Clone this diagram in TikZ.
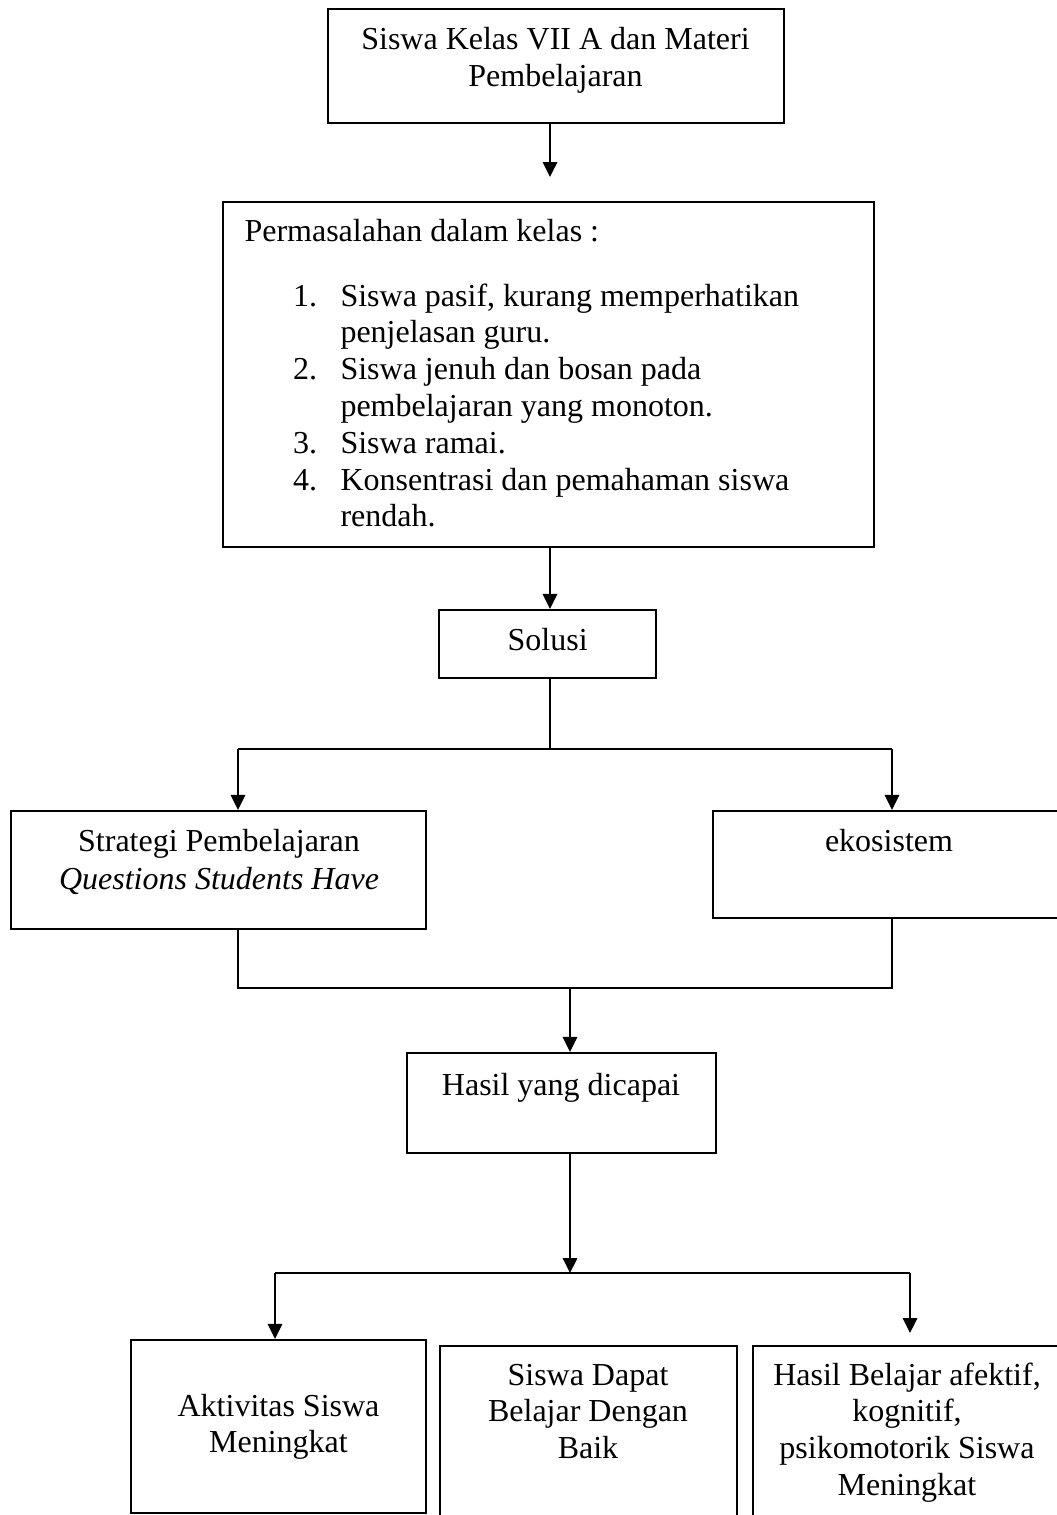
\documentclass[tikz,border=0pt]{standalone}
\usepackage{fontspec}
\setmainfont{Liberation Serif}
\usetikzlibrary{arrows.meta,fit}
\newlength\px \setlength\px{0.375pt}
\begin{document}
\begin{tikzpicture}[x=0.375pt,y=-0.375pt,
  box/.style={draw=black,line width=0.85pt,inner sep=0pt},
  txt/.style={inner sep=0pt,anchor=base,font=\fontsize{12}{13.8}\selectfont},
  con/.style={draw=black,line width=0.75pt},
  arr/.style={con,-{Triangle[length=5.6pt,width=5.4pt]}}]
\useasboundingbox (0,0) rectangle (1057,1515);
% boxes
\node[box,fit={(328,9) (784,123)}] (b1) {};
\node[box,fit={(223,202) (874,547)}] (b2) {};
\node[box,fit={(439,610) (656,678)}] (sol) {};
\node[box,fit={(11,811) (426,929)}] (str) {};
\node[box,fit={(713,811) (1070,918)}] (eko) {};
\node[box,fit={(407,1053) (716,1153)}] (has) {};
\node[box,fit={(131,1340) (426,1513)}] (r1) {};
\node[box,fit={(440,1346) (737,1530)}] (r2) {};
\node[box,fit={(753,1346) (1070,1530)}] (r3) {};
% texts
\node[txt] (t1) at (555.5,50) {\begin{tabular}[t]{@{}c@{}}Siswa Kelas VII A dan Materi\\Pembelajaran\end{tabular}};
\node[txt,anchor=base west] (t2) at (244,242) {Permasalahan dalam kelas :};
\node[txt,anchor=base west] (t3) at (292.7,306) {\begin{tabular}[t]{@{}p{47.3\px}@{}l@{}}1.&Siswa pasif, kurang memperhatikan\\ &penjelasan guru.\\2.&Siswa jenuh dan bosan pada\\ &pembelajaran yang monoton.\\3.&Siswa ramai.\\4.&Konsentrasi dan pemahaman siswa\\ &rendah.\end{tabular}};
\node[txt] (t4) at (547.7,650.7) {Solusi};
\node[txt] (t5) at (219,851) {\begin{tabular}[t]{@{}c@{}}Strategi Pembelajaran\\[0.8pt]\textit{Questions Students Have}\end{tabular}};
\node[txt] (t6) at (889,851.7) {ekosistem};
\node[txt] (t7) at (561,1095) {Hasil yang dicapai};
\node[txt] (t8) at (278.5,1416) {\begin{tabular}[t]{@{}c@{}}Aktivitas Siswa\\Meningkat\end{tabular}};
\node[txt] (t9) at (588,1385) {\begin{tabular}[t]{@{}c@{}}Siswa Dapat\\Belajar Dengan\\Baik\end{tabular}};
\node[txt] (t10) at (907,1385) {\begin{tabular}[t]{@{}c@{}}Hasil Belajar afektif,\\kognitif,\\psikomotorik Siswa\\Meningkat\end{tabular}};
% connectors
\coordinate (a1) at (550,177);
\draw[arr] (b1.south -| a1) -- (a1);
\draw[arr] (b2.south -| a1) -- (sol.north -| a1);
\coordinate (s1) at (550,749);
\coordinate (sL) at (238,749);
\coordinate (sR) at (892,749);
\draw[con] (sol.south -| s1) -- (s1);
\draw[con] (sL) -- (sR);
\draw[arr] (sL) -- (str.north -| sL);
\draw[arr] (sR) -- (eko.north -| sR);
\coordinate (mL) at (238,988);
\coordinate (mR) at (892,988);
\coordinate (m1) at (570,988);
\draw[con] (str.south -| mL) -- (mL) -- (mR) -- (eko.south -| mR);
\draw[arr] (m1) -- (has.north -| m1);
\coordinate (h1) at (570,1273);
\draw[arr] (has.south -| h1) -- (h1);
\coordinate (hL) at (275,1273);
\coordinate (hR) at (910,1273);
\coordinate (hR2) at (910,1333);
\draw[con] (hL) -- (hR);
\draw[arr] (hL) -- (r1.north -| hL);
\draw[arr] (hR) -- (hR2);
\end{tikzpicture}
\end{document}
